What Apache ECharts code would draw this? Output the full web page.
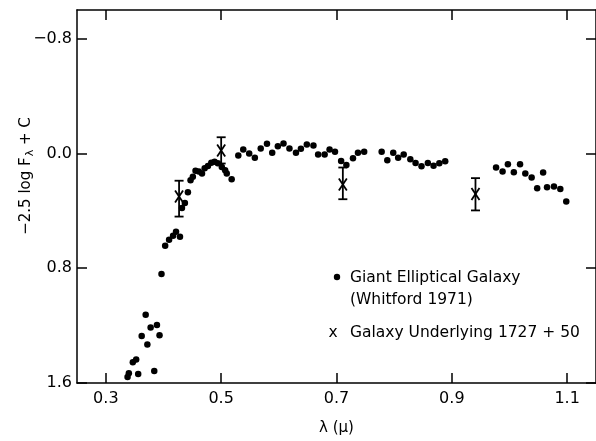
<!DOCTYPE html>
<html>
<head>
<meta charset="utf-8">
<script src="https://cdn.jsdelivr.net/npm/echarts@6/dist/echarts.min.js"></script>
<style>
  html, body { margin: 0; padding: 0; background: #fff; }
  #main { width: 596px; height: 441px; }
</style>
</head>
<body>
<div id="main"></div>
<script>
// Giant elliptical galaxy (Whitford 1971)
const dotLambda = [
  0.3377, 0.3399, 0.3468, 0.3526, 0.3561, 0.3622, 0.3691, 0.3720, 0.3777, 0.3840,
  0.3886, 0.3931, 0.3965, 0.4029, 0.4097, 0.4166, 0.4217, 0.4286, 0.4320, 0.4371,
  0.4423, 0.4469, 0.4509, 0.4555, 0.4612, 0.4668, 0.4714, 0.4771, 0.4829, 0.4886,
  0.4942, 0.5011, 0.5069, 0.5097, 0.5182, 0.5297, 0.5383, 0.5486, 0.5584, 0.5686,
  0.5794, 0.5885, 0.5983, 0.6081, 0.6184, 0.6297, 0.6383, 0.6485, 0.6600, 0.6681,
  0.6794, 0.6880, 0.6974, 0.7080, 0.7171, 0.7286, 0.7372, 0.7480, 0.7783, 0.7881,
  0.7984, 0.8069, 0.8165, 0.8280, 0.8371, 0.8474, 0.8584, 0.8683, 0.8783, 0.8885,
  0.9767, 0.9880, 0.9972, 1.0075, 1.0183, 1.0274, 1.0384, 1.0480, 1.0583, 1.0651,
  1.0771, 1.0881, 1.0984
];
const dotMag = [
  1.559, 1.532, 1.456, 1.436, 1.537, 1.273, 1.124, 1.332, 1.213, 1.516,
  1.195, 1.268, 0.840, 0.643, 0.601, 0.573, 0.546, 0.580, 0.381, 0.346,
  0.270, 0.186, 0.163, 0.121, 0.126, 0.140, 0.103, 0.087, 0.064, 0.057,
  0.069, 0.094, 0.117, 0.140, 0.179, 0.014, -0.028, 0.000, 0.030, -0.034,
  -0.067, -0.005, -0.051, -0.069, -0.034, -0.005, -0.032, -0.062, -0.055, 0.007,
  0.007, -0.028, -0.012, 0.052, 0.080, 0.034, -0.005, -0.012, -0.012, 0.048,
  -0.005, 0.030, 0.007, 0.041, 0.066, 0.089, 0.066, 0.085, 0.069, 0.055,
  0.098, 0.126, 0.076, 0.131, 0.076, 0.140, 0.167, 0.243, 0.133, 0.236,
  0.231, 0.248, 0.335
];

// galaxy underlying 1727 + 50, with error bars
const barLambda = [0.427, 0.500, 0.711, 0.941];
const barMag = [0.30, -0.02, 0.217, 0.282];
const barLow = [0.19, -0.113, 0.098, 0.172];
const barHigh = [0.44, 0.07, 0.319, 0.397];

const xTicks = [0.3, 0.5, 0.7, 0.9, 1.1];
const yTicks = [-0.8, 0.0, 0.8, 1.6];

const font = '"DejaVu Sans", sans-serif';
const ink = '#000';

var chart = echarts.init(document.getElementById('main'));

function fmtY(v) {
  return v < 0 ? '\u2212' + Math.abs(v).toFixed(1) : v.toFixed(1);
}

var dots = dotLambda.map(function (x, i) { return [x, dotMag[i]]; });
var bars = barLambda.map(function (x, i) { return [x, barMag[i], barLow[i], barHigh[i]]; });

var axisLine = { show: true, onZero: false, lineStyle: { color: ink, width: 1.5 } };

var option = {
  animation: false,
  backgroundColor: '#fff',
  grid: { left: 77, right: -6, top: 10, bottom: 53 },
  xAxis: [
    {
      type: 'value', min: 0.25, max: 1.15,
      name: 'λ (μ)', nameLocation: 'middle', nameGap: 38,
      nameTextStyle: { fontFamily: font, fontSize: 15, color: ink },
      axisLine: axisLine,
      axisTick: { inside: true, length: 10, customValues: xTicks, lineStyle: { color: ink, width: 1.5 } },
      axisLabel: { customValues: xTicks, margin: 8, fontFamily: font, fontSize: 16, color: ink,
        formatter: function (v) { return v.toFixed(1); } },
      splitLine: { show: false }
    },
    {
      type: 'value', position: 'top', min: 0.25, max: 1.15,
      axisLine: axisLine,
      axisTick: { inside: true, length: 10, customValues: xTicks, lineStyle: { color: ink, width: 1.5 } },
      axisLabel: { show: false },
      splitLine: { show: false }
    }
  ],
  yAxis: [
    {
      type: 'value', inverse: true, min: -1.0, max: 1.6,
      axisLine: axisLine,
      axisTick: { show: true, inside: true, length: 10, customValues: yTicks, lineStyle: { color: ink, width: 1.5 } },
      axisLabel: { customValues: yTicks, margin: 5, fontFamily: font, fontSize: 16, color: ink, formatter: fmtY },
      splitLine: { show: false }
    },
    {
      type: 'value', position: 'right', inverse: true, min: -1.0, max: 1.6,
      axisLine: axisLine,
      axisTick: { show: true, inside: true, length: 10, customValues: yTicks, lineStyle: { color: ink, width: 1.5 } },
      axisLabel: { show: false },
      splitLine: { show: false }
    }
  ],
  graphic: [
    {
      type: 'text', x: 26, y: 176, rotation: Math.PI / 2,
      style: {
        text: '{a|\u22122.5 log F}{s|λ}{a| + C}',
        align: 'center', verticalAlign: 'middle',
        rich: {
          a: { fontFamily: font, fontSize: 15, fill: ink },
          s: { fontFamily: font, fontSize: 11, fill: ink, padding: [9, 0, 0, 1] }
        }
      }
    },
    { type: 'circle', shape: { cx: 337, cy: 277, r: 3.2 }, style: { fill: ink } },
    { type: 'text', x: 350, y: 278, style: { text: 'Giant Elliptical Galaxy', fontFamily: font, fontSize: 15.5, fill: ink, verticalAlign: 'middle' } },
    { type: 'text', x: 350, y: 300, style: { text: '(Whitford 1971)', fontFamily: font, fontSize: 15.5, fill: ink, verticalAlign: 'middle' } },
    { type: 'text', x: 333, y: 333, style: { text: 'x', fontFamily: font, fontSize: 15.5, fill: ink, align: 'center', verticalAlign: 'middle' } },
    { type: 'text', x: 350, y: 333, style: { text: 'Galaxy Underlying 1727 + 50', fontFamily: font, fontSize: 15.5, fill: ink, verticalAlign: 'middle' } }
  ],
  series: [
    {
      type: 'scatter',
      name: 'Giant Elliptical Galaxy',
      symbol: 'circle',
      symbolSize: 6.5,
      itemStyle: { color: ink, opacity: 1 },
      data: dots
    },
    {
      type: 'custom',
      name: 'Galaxy Underlying 1727 + 50',
      renderItem: function (params, api) {
        var c = api.coord([api.value(0), api.value(1)]);
        var lo = api.coord([api.value(0), api.value(2)]);
        var hi = api.coord([api.value(0), api.value(3)]);
        var st = { stroke: ink, lineWidth: 1.8 };
        var cap = 4.5;
        return {
          type: 'group',
          children: [
            { type: 'line', shape: { x1: lo[0], y1: lo[1], x2: hi[0], y2: hi[1] }, style: st },
            { type: 'line', shape: { x1: lo[0] - cap, y1: lo[1], x2: lo[0] + cap, y2: lo[1] }, style: st },
            { type: 'line', shape: { x1: hi[0] - cap, y1: hi[1], x2: hi[0] + cap, y2: hi[1] }, style: st },
            { type: 'line', shape: { x1: c[0] - 4, y1: c[1] - 6, x2: c[0] + 4, y2: c[1] + 6 }, style: st },
            { type: 'line', shape: { x1: c[0] + 4, y1: c[1] - 6, x2: c[0] - 4, y2: c[1] + 6 }, style: st }
          ]
        };
      },
      data: bars
    }
  ]
};

chart.setOption(option);
</script>
</body>
</html>
